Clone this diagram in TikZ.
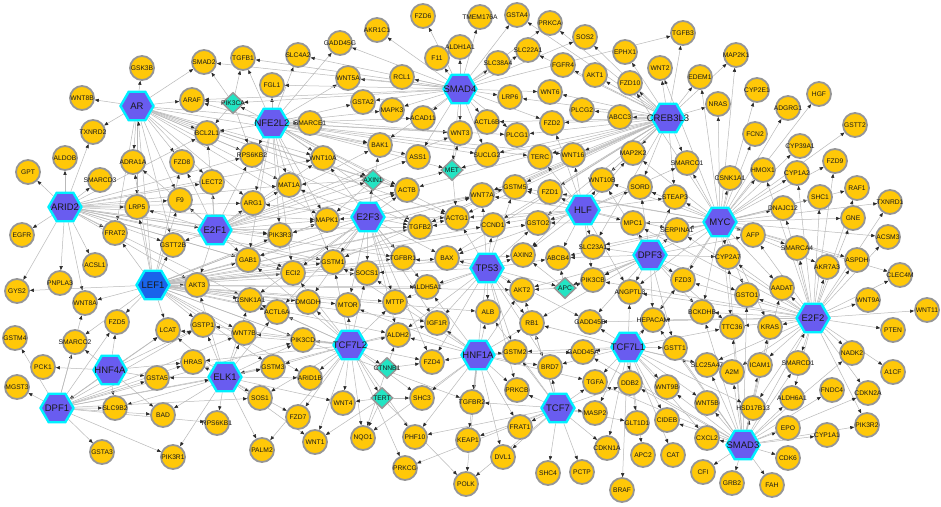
\documentclass[tikz,border=0pt]{standalone}
\usepackage{fontspec}
\setmainfont{Liberation Sans}
\usetikzlibrary{shapes.geometric,arrows.meta}
\pgfdeclarelayer{bg}
\pgfsetlayers{bg,main}
\definecolor{gold}{RGB}{255,200,8}
\definecolor{ring}{RGB}{150,150,150}
\definecolor{hexfill}{RGB}{105,92,240}
\definecolor{leffill}{RGB}{25,100,235}
\definecolor{hexring}{RGB}{0,240,255}
\definecolor{dia}{RGB}{35,228,195}
\definecolor{edgec}{RGB}{185,185,185}
\definecolor{tipc}{RGB}{40,40,40}
\definecolor{txt}{RGB}{25,25,25}
\tikzset{
 gene/.style={circle,fill=gold,draw=ring,line width=1.8pt,minimum size=24pt,inner sep=0pt,font=\fontsize{6.7}{7}\selectfont,text=txt},
 hub/.style={regular polygon,regular polygon sides=6,fill=hexfill,draw=hexring,line width=2.4pt,minimum size=33pt,inner sep=0pt,font=\fontsize{9.5}{10}\selectfont,text=txt},
 dmd/.style={diamond,fill=dia,draw=ring,line width=1.5pt,minimum width=22pt,minimum height=21pt,inner sep=0pt,font=\fontsize{6.7}{7}\selectfont,text=txt},
 edge/.style={draw=edgec,line width=0.5pt,-{Triangle[length=4pt,width=3.2pt,color=tipc]}}
}
\begin{document}
\begin{tikzpicture}[x=1pt,y=-1pt]
\useasboundingbox (0,0) rectangle (941,506);
% hubs
\foreach \n/\x/\y in {AR/137/106, NFE2L2/272/123, SMAD4/460/89, CREB3L3/668/118, ARID2/65/207, E2F1/215/230, E2F3/368/217, HLF/583/210, MYC/720/222, TP53/487/268, DPF3/650/255, E2F2/813/318, TCF7L2/350/345, HNF1A/478/355, TCF7L1/628/347, HNF4A/110/370, ELK1/225/377, DPF1/57/408, TCF7/558/408, SMAD3/743/445}
  \node[hub] (\n) at (\x,\y) {\makebox[0pt]{\n}};
\node[hub,fill=leffill] (LEF1) at (153,285) {\makebox[0pt]{LEF1}};
% diamonds
\foreach \n/\x/\y in {PIK3CA/233/103, AXIN1/373/180, MET/452/170, APC/565/288, CTNNB1/387/368, TERT/382/398}
  \node[dmd] (\n) at (\x,\y) {\makebox[0pt]{\n}};
% genes
\foreach \n/\x/\y in {GSK3B/142/68, SMAD2/204/62, TGFB1/243/58, SLC4A2/298/55, GADD45G/340/43, AKR1C1/377/30, FZD6/423/16, TMEM176A/480/17, GSTA4/517/15, PRKCA/550/23, ALDH1A1/460/47, F11/437/58, SLC22A1/528/50, SOS2/585/37, TGFB3/683/33, EPHX1/625/52, SLC38A4/498/63, FGFR4/563/65, AKT1/595/75, WNT2/660/68, FZD10/630/83, EDEM1/700/77, MAP2K1/736/55, CYP2E1/757/90, NRAS/718/104, HGF/819/94, ADGRG1/788/108, GSTT2/855/125, FCN2/755/134, CYP39A1/800/146, FZD9/835/161, HMOX1/763/170, CYP1A2/797/173, WNT5A/348/78, RCL1/402/77, FGL1/272/85, ARAF/192/100, WNT8B/82/98, TXNRD2/93/132, BCL2L1/207/133, ALDOB/65/158, GPT/28/172, ADRA1A/133/162, FZD8/182/162, RPS6KB2/252/155, SMARCE1/310/123, GSTA2/363/102, MAPK3/392/110, ACAD11/423/118, WNT3/460/133, BAK1/380/145, ASS1/418/157, WNT10A/323/158, LRP6/510/97, WNT6/550/92, ACTL6B/487/122, PLCG2/582/110, ABCC3/620/117, FZD2/552/123, PLCG1/517/135, SUCLG2/487/155, TERC/540/157, WNT16/573/155, MAP2K2/633/153, SMARCC1/687/163, SMARCD3/100/180, LECT2/212/182, LRP5/137/207, F9/180/200, EGFR/22/235, FRAT2/115/233, GSTT2B/173/245, ACSL1/95/265, PNPLA3/60/283, AKT3/197/285, GYS2/17/291, WNT8A/85/303, FZD5/117/322, LCAT/168/330, GSTP1/203/325, GSTM4/15/338, MAT1A/289/185, ACTB/407/190, ARG1/253/203, MAPK1/327/220, TGFB2/420/227, ACTG1/457/218, PIK3R3/280/235, GAB1/248/260, GSTM1/333/262, ECI2/293/273, TGFBR1/403/258, BAX/447/258, SOCS1/367/273, ALDH5A1/427/287, DMGDH/308/302, MTOR/348/305, MTTP/395/302, ACTL6A/277/312, IGF1R/437/323, ALDH2/398/335, WNT7B/244/333, PIK3CD/303/340, GSTM3/273/367, ARID1B/310/378, FZD4/432/362, SOS1/260/398, WNT4/343/403, SHC3/422/398, FZD7/298/417, WNT1/315/442, NQO1/363/438, PHF10/415/437, PALM2/262/450, PRKCG/405/468, POLK/466/484, WNT7A/482/195, GSTM5/515/187, FZD1/550/192, WNT10B/602/180, SORD/640/187, STEAP3/675/197, CCND1/493/225, GSTO2/538/223, MPC1/633/223, SERPINA1/677/230, AXIN2/523/255, ABCB4/558/258, SLC23A1/593/247, PIK3CB/593/280, FZD3/683/280, AKT2/522/290, ANGPTL3/630/292, ALB/488/312, RB1/532/323, GADD45B/590/322, HEPACAM/653/320, BCKDHB/702/312, RAF1/857/188, SHC1/820/197, TXNRD1/890/202, DNAJC12/783/208, GNE/853/218, AFP/753/235, ACSM3/888/237, SMARCA4/797/248, CYP2A7/728/257, ASPDH/857/260, AKR7A3/827/267, CLEC4M/900/275, AADAT/782/288, GSTO1/747/295, WNT9A/868/300, WNT11/927/310, TTC36/732/327, KRAS/770/327, PTEN/893/330, NADK2/852/353, A1CF/893/372, A2M/732/372, ICAM1/760/365, SMARCD1/798/363, SLC25A47/707/365, FNDC4/832/390, CDKN2A/868/393, ALDH6A1/792/398, HSD17B13/753/408, WNT5B/707/403, EPO/788/428, PIK3R2/867/425, CYP1A1/827/435, CXCL2/707/438, CDK6/788/458, CFI/703/472, GRB2/732/483, FAH/772/485, GSTM2/515/352, GADD45A/583/352, GSTT1/675/348, BRD7/550/367, TGFA/595/382, DDB2/630/383, WNT9B/667/387, PRKCB/517/390, TGFBR2/472/402, MASP2/595/413, GLT1D1/637/423, CIDEB/667/420, FRAT1/520/427, KEAP1/468/440, DVL1/503/457, CDKN1A/607/448, APC2/643/455, CAT/673/455, SHC4/548/473, PCTP/582/472, BRAF/622/490, SMARCC2/75/342, PCK1/43/367, HRAS/193/362, MGST3/17/387, GSTA5/157/378, SLC9B2/115/408, BAD/163/415, RPS6KB1/217/423, GSTA3/102/452, PIK3R1/173/457}
  \node[gene] (\n) at (\x,\y) {\makebox[0pt]{\n}};
\node[gene] (CSNKa) at (250,300) {\makebox[0pt]{CSNK1A1}};
\node[gene] (CSNKb) at (730,178) {\makebox[0pt]{CSNK1A1}};
% edges
\begin{pgfonlayer}{bg}
\fill[white] (0,0) rectangle (941,506);
\foreach \t in {GSK3B,WNT8B,TXNRD2,ARAF,ADRA1A,FZD8,BCL2L1,SMAD2,LRP5,F9,FRAT2,GSTT2B,LECT2,RPS6KB2,MAT1A,ARG1,MAPK1,WNT10A,ACTB,TGFB2,AXIN1,ACTG1,WNT3,BAK1}
  \draw[edge] (AR) -- (\t);
\foreach \t in {GPT,EGFR,GYS2,PNPLA3,ACSL1,WNT8A,FRAT2,LRP5,SMARCD3,F9,LECT2,TXNRD2,ALDOB,GSTT2B,ARG1,MAT1A,BCL2L1,MAPK1,PIK3R3,AKT3,E2F1,WNT10A,RPS6KB2,GAB1,ECI2,GSTM1,SOCS1,TGFBR1,CSNKa}
  \draw[edge] (ARID2) -- (\t);
\foreach \t in {AR,AKT3,GSTT2B,F9,LRP5,FRAT2,GYS2,WNT8A,FZD5,LCAT,GSTP1,CSNKa,GAB1,ECI2,PIK3R3,MAPK1,TGFB2,ACTB,ACTG1,GSTM1,SOCS1,TGFBR1,BAX,DMGDH,MTOR,MTTP,ALDH5A1,ACTL6A,SMARCC2,WNT7B,ADRA1A,FZD8,PIK3CD,GSTM3,ARID1B,ALDH2,IGF1R,AKT2,AXIN2,CCND1,WNT7A,GSTO2,ALB,TGFBR2}
  \draw[edge] (LEF1) -- (\t);
\foreach \t in {LECT2,F9,GSTT2B,MAT1A,ARG1,PIK3R3,BCL2L1,FZD8,RPS6KB2,LRP5,AKT3,GAB1,ADRA1A,MAPK1,ECI2,ACTB,TGFB2,WNT10A,AXIN1,MET,WNT3,BAK1,ASS1}
  \draw[edge] (E2F1) -- (\t);
\foreach \t in {TGFB1,FGL1,SLC4A2,WNT5A,GSTA2,MAPK3,SMARCE1,BAK1,WNT10A,RPS6KB2,BCL2L1,ARAF,PIK3CA,GADD45G,ASS1,ACAD11,WNT3,MET,AXIN1,ACTB,SUCLG2,MAT1A,ARG1,TGFB2,ACTG1,TERC,WNT16,PLCG1,GSTM1,MAPK1,PIK3R3,ECI2,GAB1}
  \draw[edge] (NFE2L2) -- (\t);
\foreach \t in {F11,FZD6,ALDH1A1,AKR1C1,GADD45G,SLC4A2,TGFB1,WNT5A,RCL1,FGL1,GSTA2,MAPK3,ACAD11,WNT3,TMEM176A,GSTA4,SLC22A1,SLC38A4,LRP6,ACTL6B,PLCG1,SUCLG2,WNT6,FZD2,SOS2,TGFB3,PRKCA,MET,ASS1,BAK1,PIK3CA,ARAF,SMAD2}
  \draw[edge] (SMAD4) -- (\t);
\foreach \t in {TGFB3,EDEM1,WNT2,FZD10,EPHX1,SOS2,AKT1,FGFR4,PRKCA,ABCC3,PLCG2,WNT6,FZD2,LRP6,MAP2K2,SMARCC1,WNT16,TERC,MAP2K1,NRAS,WNT10B,SORD,STEAP3,SUCLG2,PLCG1,ACTL6B,SLC22A1,GSTA4,FZD1,GSTM5,WNT7A,ACTG1,ACTB,MET,GSTO2,CCND1,AXIN2,TGFB2,BAX,SLC23A1,GSTM1}
  \draw[edge] (CREB3L3) -- (\t);
\foreach \t in {MAPK1,MAT1A,ACTB,AXIN1,TGFB2,ACTG1,ARG1,PIK3R3,GAB1,GSTM1,ECI2,SOCS1,TGFBR1,MTOR,DMGDH,MTTP,BAX,ALDH5A1,WNT7A,GSTM5,CSNKa,ACTL6A,IGF1R,ALDH2,FZD4,WNT10A,BAK1}
  \draw[edge] (E2F3) -- (\t);
\foreach \t in {WNT10B,FZD1,GSTM5,GSTO2,SORD,MPC1,SLC23A1,WNT16,TERC,WNT7A,CCND1,STEAP3,SERPINA1,ABCB4,AXIN2,PIK3CB,MAP2K2,SMARCC1,FZD2,ACTG1,TGFB2,BAX,ANGPTL3}
  \draw[edge] (HLF) -- (\t);
\foreach \t in {CCND1,AXIN2,AKT2,ALB,RB1,GSTO2,ABCB4,WNT7A,ACTG1,BAX,IGF1R,MTTP,ALDH5A1,GSTM2,APC,GSTM5,TGFBR1,SOCS1,ALDH2,FZD4,PRKCB,TGFBR2,BRD7,GADD45B}
  \draw[edge] (TP53) -- (\t);
\foreach \t in {SERPINA1,FZD3,HEPACAM,ANGPTL3,MPC1,SLC23A1,PIK3CB,GADD45B,BCKDHB,CYP2A7,STEAP3,SORD,AFP,GSTO1,TTC36,GSTT1,APC,ABCB4,RB1,AKT2,WNT10B}
  \draw[edge] (DPF3) -- (\t);
\foreach \t in {CSNKb,HMOX1,DNAJC12,AFP,CYP2A7,MAP2K1,NRAS,FCN2,CYP2E1,ADGRG1,HGF,CYP39A1,GSTT2,FZD9,SHC1,RAF1,TXNRD1,GNE,ACSM3,SMARCA4,CYP1A2,SMARCC1,STEAP3,SERPINA1,EDEM1,MAP2K2,WNT2,FZD10,SORD,MPC1,WNT10B,AKR7A3,ASPDH,CLEC4M,GSTO1,AADAT,FZD3,BCKDHB,HEPACAM,ANGPTL3,TTC36,KRAS,GSTO2,ABCB4,SLC23A1,PIK3CB,FZD1,GSTM5}
  \draw[edge] (MYC) -- (\t);
\foreach \t in {AADAT,GSTO1,KRAS,TTC36,SMARCA4,AKR7A3,ASPDH,WNT9A,CLEC4M,WNT11,PTEN,GNE,SHC1,RAF1,TXNRD1,ACSM3,DNAJC12,CYP2A7,AFP,NADK2,A1CF,CDKN2A,PIK3R2,SMARCD1,ICAM1,A2M,BCKDHB,HEPACAM,FZD3,CYP1A2,HMOX1,FZD9,SLC25A47,HSD17B13,ALDH6A1,ANGPTL3,GADD45B,PIK3CB,SERPINA1,MPC1}
  \draw[edge] (E2F2) -- (\t);
\foreach \t in {HSD17B13,ALDH6A1,EPO,CYP1A1,CDK6,FAH,GRB2,CFI,CXCL2,WNT5B,SLC25A47,A2M,ICAM1,SMARCD1,FNDC4,CDKN2A,PIK3R2,NADK2,KRAS,TTC36,AADAT,GSTO1,E2F2,CYP2A7,WNT9B,CIDEB,GSTT1,BCKDHB,HEPACAM,GADD45A,TGFA,DDB2}
  \draw[edge] (SMAD3) -- (\t);
\foreach \t in {GSTT1,GADD45A,DDB2,WNT9B,TGFA,CIDEB,GLT1D1,BRD7,BRAF,CDKN1A,SLC25A47,WNT5B,CXCL2,HEPACAM,GSTM2,APC2,CAT,MASP2,GADD45B,ANGPTL3,RB1,FZD3,TTC36,A2M,HSD17B13}
  \draw[edge] (TCF7L1) -- (\t);
\foreach \t in {PRKCB,FRAT1,MASP2,SHC4,PCTP,CDKN1A,TGFA,BRD7,GSTM2,DVL1,TGFBR2,KEAP1,POLK,GLT1D1,DDB2,ALB,RB1,AKT2,PHF10,PRKCG}
  \draw[edge] (TCF7) -- (\t);
\foreach \t in {GSTM2,TGFBR2,FZD4,ALDH2,IGF1R,BRD7,PRKCB,KEAP1,POLK,SHC3,PHF10,RB1,ALB,AKT2,GADD45A,TGFA,FRAT1,DVL1,NQO1,MTOR,SOCS1,ALDH5A1,GSTM1}
  \draw[edge] (HNF1A) -- (\t);
\foreach \t in {PIK3CD,GSTM3,ARID1B,CTNNB1,FZD4,ALDH2,WNT7B,MTOR,SOS1,FZD7,WNT4,WNT1,PALM2,NQO1,TERT,SHC3,DMGDH,ACTL6A,CSNKa,MTTP,IGF1R,GSTP1,HRAS,LCAT,ELK1,PHF10,PRKCG,GSTM1,ECI2,SOCS1,GAB1}
  \draw[edge] (TCF7L2) -- (\t);
\foreach \t in {HRAS,GSTP1,LCAT,SOS1,GSTM3,PIK3CD,RPS6KB1,PIK3R1,BAD,SLC9B2,WNT7B,FZD7,WNT1,PALM2,WNT4,ARID1B,CSNKa,ACTL6A,AKT3,GSTA5}
  \draw[edge] (ELK1) -- (\t);
\foreach \t in {GSTA5,PCK1,SMARCC2,LCAT,HRAS,GSTP1,FZD5,SLC9B2,BAD,DPF1}
  \draw[edge] (HNF4A) -- (\t);
\foreach \t in {MGST3,SMARCC2,GSTA3,SLC9B2,BAD,GSTA5,FZD5,RPS6KB1,PIK3R1,HRAS,LCAT,GSTP1,WNT7B,SOS1,PIK3CD,GSTM3,ELK1,WNT8A,GSTM4}
  \draw[edge] (DPF1) -- (\t);
\foreach \t in {ARAF,SMAD2,TGFB1,BCL2L1,RPS6KB2}
  \draw[edge] (PIK3CA) -- (\t);
\foreach \t in {ACTB,MAT1A,MAPK1}
  \draw[edge] (AXIN1) -- (\t);
\foreach \t in {ACTG1,WNT3}
  \draw[edge] (MET) -- (\t);
\foreach \t in {ABCB4,PIK3CB,AKT2,AXIN2}
  \draw[edge] (APC) -- (\t);
\foreach \t in {FZD4,NQO1,ALDH2}
  \draw[edge] (CTNNB1) -- (\t);
\foreach \t in {NQO1,SHC3,POLK,WNT1,WNT4}
  \draw[edge] (TERT) -- (\t);
\end{pgfonlayer}
\end{tikzpicture}
\end{document}
